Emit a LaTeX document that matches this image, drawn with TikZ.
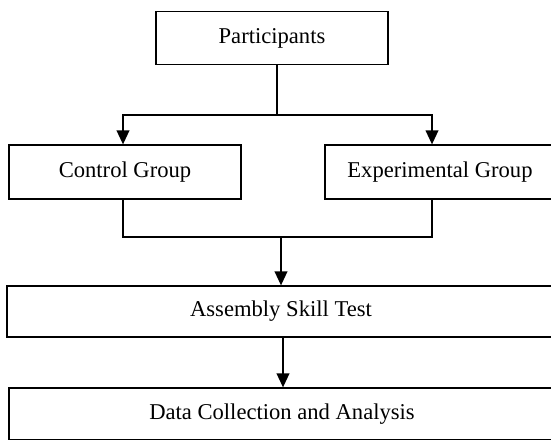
\documentclass[tikz,border=0pt]{standalone}
\usepackage{fontspec}
\setmainfont{Liberation Serif}
\usetikzlibrary{arrows.meta}

\begin{document}
\begin{tikzpicture}[%
    x=0.5pt, y=-0.5pt,          % one unit is one pixel of the layout
    >={Triangle[width=6.4pt, length=7pt]},
    ]
% -------------------------------------------------
% Box and line styles
\tikzset{
  base/.style={draw, line width=0.65pt, inner sep=0pt, align=center,
    font=\fontsize{11.3}{13}\selectfont},
  proc/.style={base, rectangle, minimum height=26.5pt},
  norm/.style={draw, line width=0.65pt},
}
\useasboundingbox (0,0) rectangle (551,439);
% -------------------------------------------------
% Start by placing the nodes
\node [proc, minimum width=116pt] (part) at (272,38) {Participants};
\node [proc, minimum width=116pt, minimum height=27pt] (ctrl) at (125,172)
  {Control Group};
\node [proc, minimum width=115pt, minimum height=27pt] (expt) at (440,172)
  {Experimental Group};
\node [proc, minimum width=274pt, minimum height=25.5pt] (test) at (281,311.5)
  {Assembly Skill Test};
\node [proc, minimum width=273pt, minimum height=26pt] (data) at (282,414)
  {Data Collection and Analysis};

% Branch and merge points
\coordinate (split) at (277,115);
\coordinate (merge) at (281,237);

% -------------------------------------------------
% Connectors
\draw [norm] (split |- part.south) -- (split);
\draw [norm, ->] (split) -| ([xshift=-1pt]ctrl.north);
\draw [norm, ->] (split) -| ([xshift=-4pt]expt.north);
\draw [norm] ([xshift=-1pt]ctrl.south) |- (merge) -| ([xshift=-4pt]expt.south);
\draw [norm, ->] (merge) -- (merge |- test.north);
\draw [norm, ->] ([xshift=1pt]test.south) -- ([xshift=1pt]test.south |- data.north);
% -------------------------------------------------
\end{tikzpicture}
\end{document}
